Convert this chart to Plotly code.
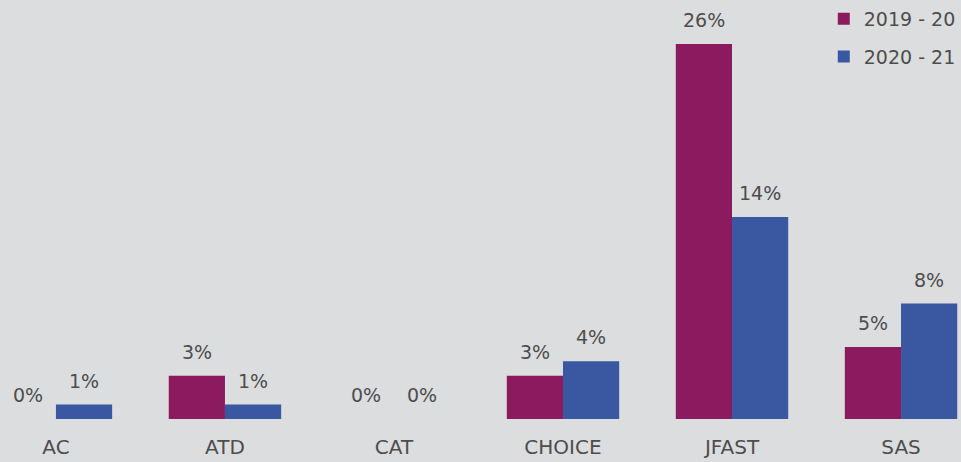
import plotly.graph_objects as go

# Dados
categorias = ["AC", "ATD", "CAT", "CHOICE", "JFAST", "SAS"]
series_nomes = ["2019 - 20", "2020 - 21"]
valores_1920 = [0, 3, 0, 3, 26, 5]
valores_2021 = [1, 1, 0, 4, 14, 8]

CORES = ["#8B1A5E", "#3A57A2"]
FONTE = "DejaVu Sans"
COR_TEXTO = "#4D4D4D"
FUNDO = "#DCDDDF"

fig = go.Figure()
for i, (nome, vals) in enumerate(zip(series_nomes, [valores_1920, valores_2021])):
    fig.add_trace(go.Bar(
        x=categorias,
        y=vals,
        name=nome,
        legendgroup=nome,
        marker=dict(color=CORES[i], line=dict(width=0)),
    ))

# Rótulos de dados acima das barras
for i, vals in enumerate([valores_1920, valores_2021]):
    deslocamento = -28 if i == 0 else 28
    for cat, v in zip(categorias, vals):
        fig.add_annotation(
            x=cat, y=v, text=f"{v}%", showarrow=False,
            xshift=deslocamento, yshift=24,
            font=dict(family=FONTE, size=19, color=COR_TEXTO),
        )

fig.update_layout(
    width=961, height=462,
    paper_bgcolor=FUNDO, plot_bgcolor=FUNDO,
    margin=dict(l=0, r=0, t=0, b=43),
    barmode="group",
    bargap=0.335,
    bargroupgap=0,
    font=dict(family=FONTE, size=20, color=COR_TEXTO),
    legend=dict(
        x=0.859, y=1.0, xanchor="left", yanchor="top",
        bgcolor="rgba(0,0,0,0)",
        font=dict(family=FONTE, size=19, color=COR_TEXTO),
        tracegroupgap=10,
        itemwidth=30,
    ),
    xaxis=dict(
        range=[-0.331, 5.343],
        showgrid=False, zeroline=False, showline=False,
        ticks="", ticklabelstandoff=14,
    ),
    yaxis=dict(
        range=[0, 29.05],
        visible=False,
    ),
)

# Remove a margem padrão da página para o gráfico ocupar a janela toda
fig.write_html(
    "out.html",
    config={"displayModeBar": False},
    post_script="document.body.style.margin='0';document.body.style.background='#DCDDDF';",
)
